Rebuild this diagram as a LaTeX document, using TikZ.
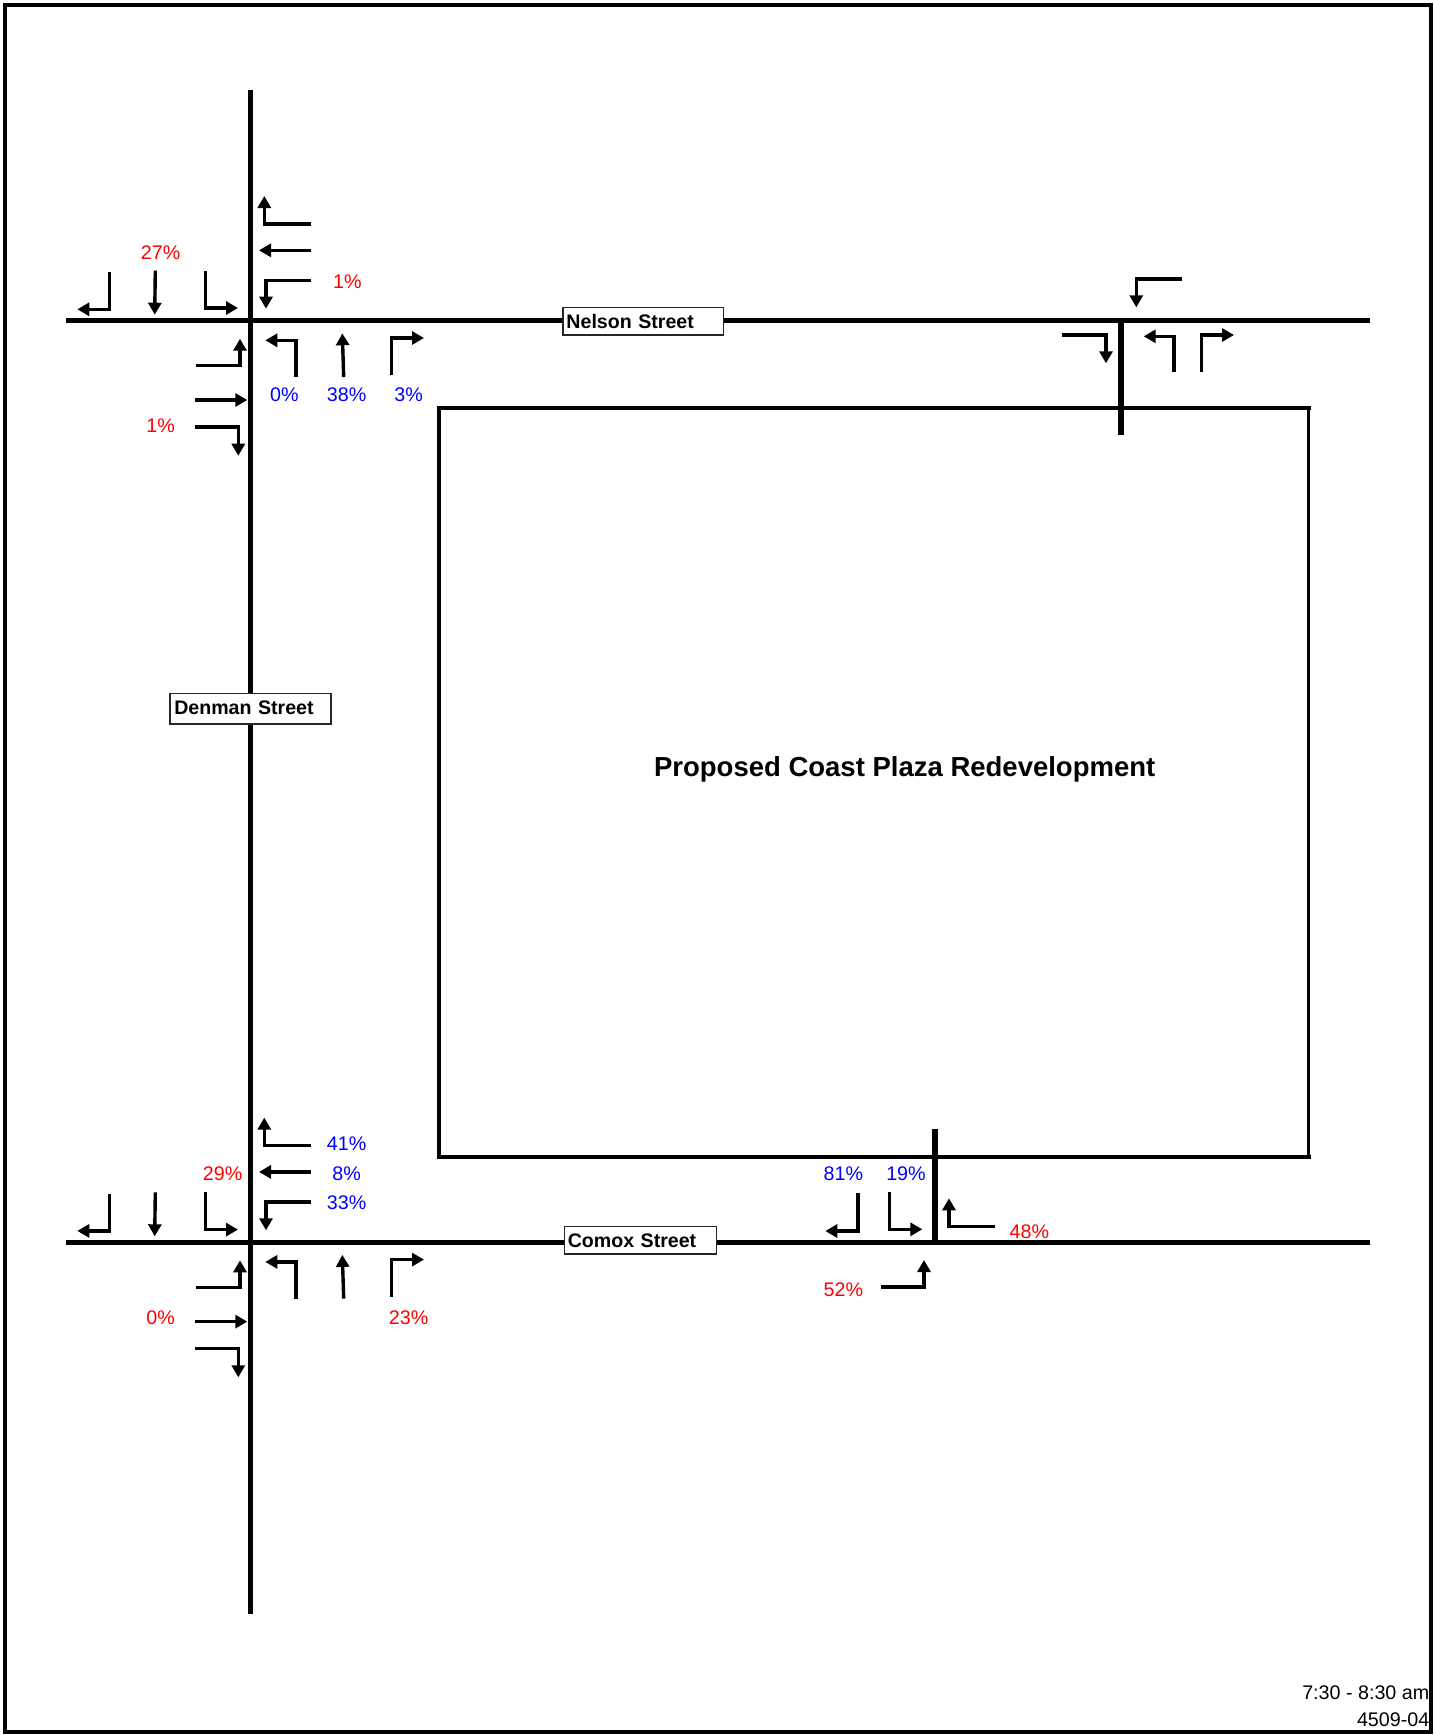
\documentclass[tikz,border=0pt]{standalone}
\usepackage{fontspec}
\setmainfont{Liberation Sans}
\usetikzlibrary{arrows.meta}
\tikzset{
  road/.style={line width=4.6pt,line cap=butt},
  site/.style={line width=3.8pt,line join=miter},
  mv/.style={line width=3.4pt,line join=miter,-{Triangle[length=12pt,width=13pt]}},
  pct/.style={inner sep=0pt,font=\fontsize{19.7}{22}\selectfont},
  redpct/.style={pct,text=red},
  bluepct/.style={pct,text=blue},
  street/.style={draw=black!85,line width=1.3pt,fill=white,inner sep=0pt,anchor=west,font=\fontsize{19.6}{22}\bfseries\selectfont,minimum height=27.5pt,align=left},
  stamp/.style={inner sep=0pt,anchor=east,font=\fontsize{19.7}{22}\selectfont}
}
\newcommand{\movements}{%
  \draw[mv] (311,224) -- (264.3,224) -- (264.3,196);
  \draw[mv] (311,250.3) -- (259,250.3);
  \draw[mv] (311,280.3) -- (266,280.3) -- (266,308.7);
  \draw[mv] (109.3,272) -- (109.3,309.3) -- (77.3,309.3);
  \draw[mv] (155.3,270.7) -- (154.7,314.7);
  \draw[mv] (205.3,270.7) -- (205.3,308) -- (238,308);
  \draw[mv] (196.3,365.7) -- (240,365.7) -- (240,338.7);
  \draw[mv] (195,400) -- (247.3,400);
  \draw[mv] (195,427) -- (238.3,427) -- (238.3,455.7);
  \draw[mv] (296,377) -- (296,340.3) -- (265.3,340.3);
  \draw[mv] (343.7,377) -- (342.3,333.3);
  \draw[mv] (391.7,375.3) -- (391.7,338) -- (424,338);
}
\begin{document}
\begin{tikzpicture}[x=1pt,y=-1pt]
\useasboundingbox (0,0) rectangle (1433,1735);
\fill[white] (0,0) rectangle (1433,1735);
% frame
\draw[line width=4.2pt] (5,5) rectangle (1431,1732);
% road ends
\coordinate (nw) at (66,320.7);
\coordinate (ne) at (1370,320.7);
\coordinate (cw) at (66,1242.3);
\coordinate (ce) at (1370,1242.3);
\coordinate (dn) at (250.5,90);
\coordinate (ds) at (250.5,1614);
\coordinate (at) at (1121,320.7);
\coordinate (ab) at (1121,434.5);
\coordinate (bt) at (935,1129);
\coordinate (bb) at (935,1242.3);
% site
\draw[site] (1311,407.7) -- (439,407.7) -- (439,1156.7) -- (1311,1156.7);
\draw[site] (1308.5,407.7) -- (1308.5,1156.7);
% roads
\draw[road] (nw) -- (ne);
\draw[road] (cw) -- (ce);
\draw[road,line width=5pt] (dn) -- (ds);
\draw[road,line width=6pt] (at) -- (ab);
\draw[road,line width=5.5pt] (bt) -- (bb);
% turning movements
\movements
\begin{scope}[shift={(0,921.6)}]
\movements
\end{scope}
% north-east access
\draw[mv] (1181.7,279) -- (1136.3,279) -- (1136.3,307.3);
\draw[mv] (1062.3,335) -- (1106,335) -- (1106,363.3);
\draw[mv] (1174,372.3) -- (1174,336.3) -- (1143.7,336.3);
\draw[mv] (1201.7,372.3) -- (1201.7,335) -- (1234,335);
% south access
\draw[mv] (858,1193.3) -- (858,1231) -- (825.3,1231);
\draw[mv] (889.7,1192) -- (889.7,1229.3) -- (922.3,1229.3);
\draw[mv] (995.3,1226.3) -- (949,1226.3) -- (949,1198.3);
\draw[mv] (880.7,1287) -- (924,1287) -- (924,1260);
% street labels
\node[street,text width=160.7pt] (nelson) at (562.3,321.3) {\hspace*{3.5pt}Nelson Street};
\node[street,text width=161pt,minimum height=30.5pt] (denman) at (169.3,708.6) {\hspace*{4.3pt}\raisebox{1pt}{Denman Street}};
\node[street,text width=152.3pt] (comox) at (563.7,1240.3) {\hspace*{3.4pt}Comox Street};
\node[inner sep=0pt,font=\fontsize{27.5}{30}\bfseries\selectfont] (title) at (904.7,769) {Proposed Coast Plaza Redevelopment};
% percentages
\node[redpct] (p27) at (160.7,252.7) {27\%};
\node[redpct] (p1a) at (347.3,281.7) {1\%};
\node[bluepct] (p0a) at (284.3,395) {0\%};
\node[bluepct] (p38) at (346.7,395) {38\%};
\node[bluepct] (p3) at (408.7,395) {3\%};
\node[redpct] (p1b) at (160.7,426) {1\%};
\node[bluepct] (p41) at (346.7,1143.3) {41\%};
\node[bluepct] (p8) at (346.7,1173.3) {8\%};
\node[bluepct] (p33) at (346.7,1202.3) {33\%};
\node[redpct] (p29) at (222.7,1173.3) {29\%};
\node[redpct] (p0b) at (160.7,1317.7) {0\%};
\node[redpct] (p23) at (408.7,1317.7) {23\%};
\node[bluepct] (p81) at (843.3,1173.7) {81\%};
\node[bluepct] (p19) at (906,1173.7) {19\%};
\node[redpct] (p48) at (1029.3,1231.3) {48\%};
\node[redpct] (p52) at (843.3,1290) {52\%};
% stamp
\node[stamp] (time) at (1429.5,1693) {7:30 - 8:30 am};
\node[stamp] (job) at (1429.5,1720) {4509-04};
\end{tikzpicture}
\end{document}
